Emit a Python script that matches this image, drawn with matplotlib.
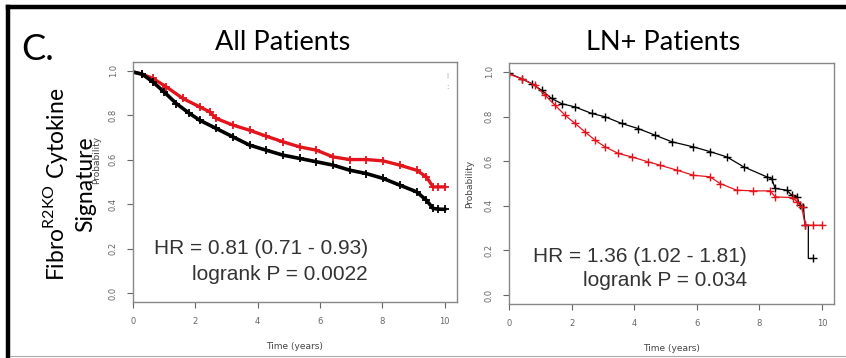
import matplotlib.pyplot as plt
from matplotlib.lines import Line2D

# All Patients (left panel)
all_black_t = [0, 0.3, 0.64, 1.0, 1.39, 1.8, 2.14, 2.67, 3.21, 3.74, 4.28, 4.81, 5.35,
               5.89, 6.42, 6.96, 7.49, 8.03, 8.56, 9.1, 9.42, 9.63, 9.8, 10.0]
all_black_p = [0.995, 0.985, 0.95, 0.905, 0.853, 0.81, 0.778, 0.741, 0.703, 0.666, 0.643,
               0.621, 0.606, 0.591, 0.576, 0.553, 0.538, 0.516, 0.486, 0.456, 0.418,
               0.381, 0.378, 0.377]
all_red_t = [0, 0.3, 0.64, 1.07, 1.6, 2.14, 2.46, 2.67, 3.21, 3.74, 4.28, 4.81, 5.35,
             5.89, 6.42, 6.96, 7.49, 8.03, 8.56, 9.1, 9.42, 9.63, 9.8, 10.0]
all_red_p = [0.995, 0.985, 0.966, 0.928, 0.876, 0.838, 0.816, 0.786, 0.756, 0.733, 0.706,
             0.681, 0.658, 0.643, 0.613, 0.601, 0.601, 0.595, 0.576, 0.553, 0.523,
             0.478, 0.478, 0.478]

# LN+ Patients (right panel)
ln_black_t = [0, 0.4, 0.72, 1.04, 1.36, 1.68, 2.11, 2.64, 3.07, 3.6, 4.13, 4.66, 5.2,
              5.89, 6.42, 6.96, 7.49, 8.23, 8.39, 8.5, 8.87, 9.03, 9.19, 9.3, 9.4,
              9.46, 9.56, 9.56, 9.72]
ln_black_p = [0.993, 0.97, 0.948, 0.918, 0.881, 0.858, 0.843, 0.814, 0.799, 0.769, 0.746,
              0.717, 0.687, 0.664, 0.643, 0.619, 0.575, 0.53, 0.522, 0.478, 0.47, 0.448,
              0.44, 0.403, 0.395, 0.313, 0.313, 0.164, 0.164]
ln_red_t = [0, 0.4, 0.83, 1.15, 1.47, 1.79, 2.11, 2.43, 2.75, 3.07, 3.49, 3.92, 4.45,
            4.82, 5.36, 5.89, 6.42, 6.74, 7.27, 7.8, 8.34, 8.5, 9.08, 9.19, 9.35, 9.46,
            9.7, 9.99]
ln_red_p = [0.99, 0.97, 0.94, 0.896, 0.851, 0.806, 0.769, 0.731, 0.694, 0.664, 0.635,
            0.619, 0.597, 0.582, 0.56, 0.537, 0.53, 0.5, 0.47, 0.467, 0.467, 0.44,
            0.437, 0.418, 0.395, 0.313, 0.313, 0.313]

titles = ['All Patients', 'LN+ Patients']
hr_text = ['HR = 0.81 (0.71 - 0.93)', 'HR = 1.36 (1.02 - 1.81)']
p_text = ['logrank P = 0.0022', 'logrank P = 0.034']
xticks = [0, 2, 4, 6, 8, 10]
yticks = [0.0, 0.2, 0.4, 0.6, 0.8, 1.0]

W, H = 846, 358
fig = plt.figure(figsize=(W / 100, H / 100), dpi=100)

RED = '#e3141b'
GREY = '#666666'

def px(x, y):
    return x / W, 1 - y / H

axes_px = [(133, 62, 457, 302), (509, 63, 834, 304)]
xmax = [10.4, 10.38]
curves = [[(all_black_t, all_black_p), (all_red_t, all_red_p)],
          [(ln_black_t, ln_black_p), (ln_red_t, ln_red_p)]]
text_pos = [(368, 248, 275), (747, 256, 281)]

for i in range(2):
    x0, y0, x1, y1 = axes_px[i]
    ax = fig.add_axes([x0 / W, 1 - y1 / H, (x1 - x0) / W, (y1 - y0) / H])
    (bt, bp), (rt, rp) = curves[i]
    if i == 0:
        ax.plot(rt, rp, color=RED, lw=2.4, marker='+', ms=6, mew=1.3)
        ax.plot(bt, bp, color='black', lw=2.6, marker='+', ms=6, mew=1.3)
    else:
        keep = [k for k in range(len(bt)) if k not in (len(bt) - 3, len(bt) - 2)]
        ax.plot(bt, bp, color='black', lw=0.9, marker='+', ms=5.5, mew=1.0,
                markevery=keep)
        ax.plot(rt, rp, color=RED, lw=0.9, marker='+', ms=5.5, mew=1.0)
    ax.set_xlim(0, xmax[i])
    ax.set_ylim(-0.04, 1.04)
    ax.set_xticks(xticks)
    ax.set_yticks(yticks)
    ax.set_yticklabels([f'{v:.1f}' for v in yticks], rotation=90, va='center')
    ax.tick_params(colors=GREY, labelsize=6, length=4, width=0.8, pad=7)
    for s in ax.spines.values():
        s.set_color('#888888')
        s.set_linewidth(1.0)
    ax.set_xlabel('Time (years)', fontsize=6.5, color='#444444', labelpad=11)
    tx, ty1, ty2 = text_pos[i]
    fig.text(*px(tx, ty1), hr_text[i], ha='right', va='center', fontsize=15,
             color='#333333', family='Liberation Sans')
    fig.text(*px(tx, ty2), p_text[i], ha='right', va='center', fontsize=15,
             color='#333333', family='Liberation Sans')

# leftover legend marks in the corner of the left panel
fig.text(*px(447, 75), '|', ha='center', va='center', fontsize=4, color='#888888')
fig.text(*px(447, 87), ':', ha='center', va='center', fontsize=5, color='#888888')

fig.text(*px(283, 42), titles[0], ha='center', va='center', fontsize=19.5, family='Lato')
fig.text(*px(663, 42), titles[1], ha='center', va='center', fontsize=19.5, family='Lato')
fig.text(*px(97, 160), 'Probability', rotation=90, ha='center', va='center',
         fontsize=6.5, color='#444444')
fig.text(*px(470, 184), 'Probability', rotation=90, ha='center', va='center',
         fontsize=6.5, color='#444444')
fig.text(*px(38, 49), 'C.', ha='center', va='center', fontsize=26, family='Lato')
fig.text(*px(69, 184), 'Fibro$^{\\mathregular{R2KO}}$ Cytokine\nSignature', rotation=90,
         ha='center', va='center', fontsize=16.5, family='Lato', linespacing=1.3,
         multialignment='center')

# frame lines
fig.add_artist(Line2D([px(8, 0)[0], 1], [px(0, 7)[1]] * 2, color='black', lw=3.2))
fig.add_artist(Line2D([px(8, 0)[0]] * 2, [0, px(0, 7)[1]], color='black', lw=3.2))
fig.add_artist(Line2D([px(10, 0)[0], 1], [px(0, 356)[1]] * 2, color='#aaaaaa', lw=0.8))

fig.savefig('out.png', dpi=100)
